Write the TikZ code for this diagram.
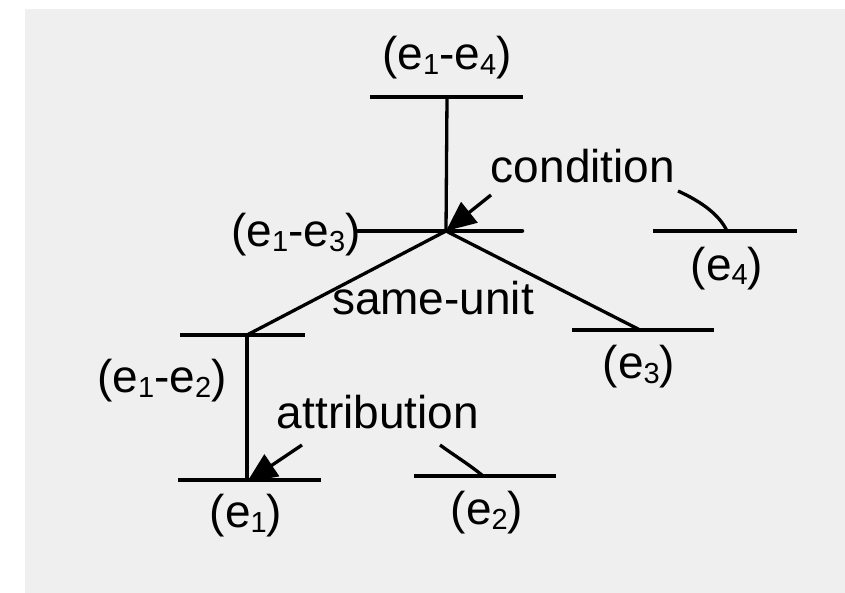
\documentclass[tikz,border=0pt]{standalone}
\usepackage{fontspec}
\setmainfont{Liberation Sans}
\usetikzlibrary{arrows.meta}
\definecolor{panel}{HTML}{EFEFEF}
% lowered, smaller index digit
\newcommand\sbx[1]{\raisebox{-5pt}{\fontsize{29}{29}\selectfont #1}}
\begin{document}
\begin{tikzpicture}[x=1pt,y=-1pt,
  bar/.style={line width=4.5pt},
  link/.style={line width=3.3pt},
  rel/.style={line width=3.3pt,-{Triangle[length=30pt,width=26pt]}},
  lbl/.style={inner sep=0pt,anchor=base,font=\fontsize{46}{55}\selectfont}]
\useasboundingbox (0,0) rectangle (845,593);
\fill[white] (0,0) rectangle (845,593);
\fill[panel] (25,9) rectangle (845,593);

% span bars: left end, right end, attachment point
\coordinate (t14L) at (370,97);  \coordinate (t14R) at (523,97);  \coordinate (t14M) at (447,97);
\coordinate (t13L) at (358,231); \coordinate (t13R) at (522,231); \coordinate (t13M) at (446,231);
\coordinate (t12L) at (180,335); \coordinate (t12R) at (305,335); \coordinate (t12M) at (247,335);
\coordinate (t3L)  at (572,330); \coordinate (t3R)  at (714,330); \coordinate (t3M)  at (640,330);
\coordinate (t4L)  at (653,231); \coordinate (t4R)  at (797,231); \coordinate (t4M)  at (727,231);
\coordinate (t1L)  at (178,480); \coordinate (t1R)  at (321,480); \coordinate (t1M)  at (247,480);
\coordinate (t2L)  at (414,476); \coordinate (t2R)  at (556,476); \coordinate (t2M)  at (483,476);

% free ends of the relation links
\coordinate (condS) at (491,195);
\coordinate (condE) at (678,191);
\coordinate (attrS) at (302,445);
\coordinate (attrE) at (440,445);

% bars
\draw[bar] (t14L) -- (t14R);
\draw[bar,line cap=round] (t13L) -- (t13R);
\draw[bar] (t12L) -- (t12R);
\draw[bar] (t3L) -- (t3R);
\draw[bar] (t4L) -- (t4R);
\draw[bar] (t1L) -- (t1R);
\draw[bar] (t2L) -- (t2R);

% tree links
\draw[link] (t14M) -- (t13M);
\draw[link] (t13M) -- (t12M);
\draw[link] (t13M) -- (t3M);
\draw[link] (t12M) -- (t1M);

% relations
\draw[rel] (condS) -- (t13M);
\draw[link] (condE) .. controls (700,201) and (719,214) .. (t4M);
\draw[rel] (attrS) -- ([yshift=-2pt]t1M);
\draw[link] (attrE) .. controls (455,456) and (470,465) .. (t2M);

% labels
\node[lbl] (l14) at (447,70)  {(e\sbx{1}-e\sbx{4})};
\node[lbl] (l13) at (296,247) {(e\sbx{1}-e\sbx{3})};
\node[lbl] (l12) at (162,392) {(e\sbx{1}-e\sbx{2})};
\node[lbl] (l4)  at (727,280) {(e\sbx{4})};
\node[lbl] (l3)  at (639,378) {(e\sbx{3})};
\node[lbl] (l1)  at (246,527) {(e\sbx{1})};
\node[lbl] (l2)  at (487,524) {(e\sbx{2})};
\node[lbl] (rc)  at (583,183) {condition};
\node[lbl] (rs)  at (433,315) {same-unit};
\node[lbl] (ra)  at (378,428) {attribution};
\end{tikzpicture}
\end{document}
